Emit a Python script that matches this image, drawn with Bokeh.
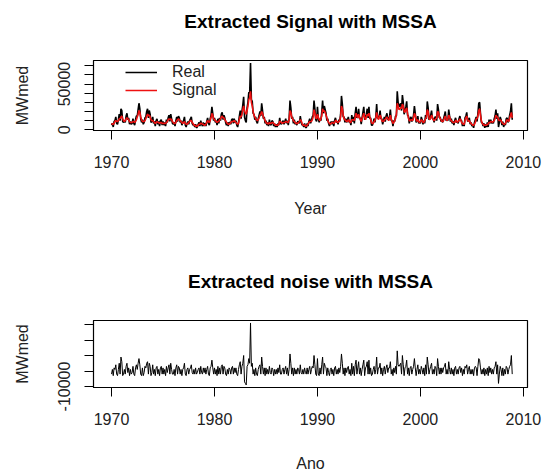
import numpy as np
from bokeh.plotting import figure
from bokeh.layouts import column
from bokeh.models import Legend, LegendItem, FixedTicker, Range1d, LinearAxis
from bokeh.embed import file_html
from bokeh.resources import INLINE

START_YEAR = 1970  # monthly series, Jan 1970 .. Dec 2008

# Signal extracted with MSSA (thousand MWmed), one year per line
signal_k = [
    7, 6, 6, 7, 9, 10, 9, 9, 10, 12, 12, 14,        # 1970
    15, 12, 10, 9, 10, 12, 13, 12, 11, 9, 8, 8,     # 1971
    8, 9, 9, 8, 9, 11, 14, 17, 21, 19, 14, 11,      # 1972
    9, 9, 9, 10, 12, 15, 17, 15, 16, 14, 11, 10,    # 1973
    10, 9, 8, 7, 8, 9, 8, 8, 7, 8, 8, 7,            # 1974
    7, 7, 7, 7, 8, 9, 11, 12, 11, 12, 11, 9,        # 1975
    8, 7, 7, 8, 10, 11, 12, 11, 10, 9, 8, 7,        # 1976
    8, 9, 7, 6, 6, 7, 8, 9, 10, 10, 8, 7,           # 1977
    5, 5, 4, 4, 4, 5, 6, 6, 7, 7, 6, 6,             # 1978
    5, 5, 6, 8, 10, 9, 8, 10, 13, 18, 16, 12,       # 1979
    11, 10, 9, 8, 9, 9, 11, 12, 14, 15, 13, 13,     # 1980
    11, 10, 8, 7, 6, 6, 7, 8, 9, 9, 9, 10,          # 1981
    9, 8, 7, 6, 7, 11, 15, 14, 17, 22, 26, 21,      # 1982
    18, 17, 21, 26, 33, 35, 42, 30, 26, 20, 16, 14, # 1983
    12, 11, 10, 11, 13, 16, 17, 20, 18, 14, 12, 10, # 1984
    8, 7, 7, 6, 8, 7, 7, 8, 8, 7, 6, 5,             # 1985
    5, 5, 5, 6, 9, 9, 8, 7, 8, 8, 8, 9,             # 1986
    9, 8, 8, 11, 21, 19, 14, 12, 10, 9, 8, 7,       # 1987
    7, 7, 8, 9, 11, 10, 7, 5, 5, 5, 4, 4,           # 1988
    5, 6, 8, 9, 9, 9, 11, 14, 22, 19, 13, 12,       # 1989
    17, 14, 11, 10, 12, 15, 23, 20, 21, 19, 16, 13, # 1990
    10, 8, 7, 6, 7, 8, 8, 7, 8, 10, 10, 8,          # 1991
    8, 9, 10, 14, 26, 23, 16, 12, 11, 10, 9, 9,     # 1992
    11, 10, 8, 8, 11, 11, 11, 10, 14, 18, 15, 13,   # 1993
    17, 14, 11, 9, 12, 15, 18, 14, 11, 14, 17, 15,  # 1994
    18, 14, 11, 8, 7, 7, 9, 10, 13, 19, 15, 11,     # 1995
    13, 16, 14, 10, 9, 9, 11, 11, 13, 14, 12, 10,   # 1996
    12, 16, 12, 9, 7, 8, 10, 12, 17, 29, 26, 22,    # 1997
    23, 24, 23, 28, 26, 20, 19, 22, 24, 18, 13, 10, # 1998
    10, 11, 11, 10, 13, 18, 16, 11, 9, 11, 9, 8,    # 1999
    9, 11, 10, 8, 8, 10, 12, 14, 22, 20, 13, 11,    # 2000
    13, 16, 14, 11, 10, 11, 12, 13, 20, 19, 15, 12, # 2001
    11, 9, 9, 10, 13, 15, 12, 10, 12, 16, 14, 11,   # 2002
    10, 9, 8, 8, 8, 10, 10, 8, 9, 10, 12, 11,       # 2003
    8, 7, 6, 6, 10, 13, 15, 11, 9, 10, 8, 7,        # 2004
    6, 5, 5, 6, 8, 12, 12, 15, 21, 23, 16, 10,      # 2005
    7, 6, 5, 5, 5, 5, 6, 6, 8, 8, 9, 9,             # 2006
    8, 9, 10, 12, 16, 14, 14, 11, 10, 11, 10, 8,    # 2007
    7, 6, 6, 7, 9, 11, 10, 9, 13, 16, 19, 13,       # 2008
]

# Noise extracted with MSSA (thousand MWmed), one year per line
noise_k = [
    -2, 1, -3, 2, 1, 4, -2, -3, 1, 5, -2, 9,        # 1970
    6, -3, -2, 1, -2, 3, 5, -1, 2, -3, 1, -2,       # 1971
    -1, 3, -2, -3, 2, 4, 1, 5, 8, 4, -2, -3,        # 1972
    2, -3, -1, 3, 2, 5, 6, -2, 5, 3, -3, -1,        # 1973
    4, -2, 1, -3, 2, 3, -2, 1, -3, 2, 3, -2,        # 1974
    2, -2, 1, -3, 3, -1, 2, 4, -2, 5, 1, -2,        # 1975
    -2, 1, -3, 2, 4, -2, 3, 2, -2, 1, -3, 1,        # 1976
    2, 5, -2, -3, 1, 2, -2, 1, 2, 4, -1, -2,        # 1977
    1, -2, 2, -2, -1, 1, 2, -2, 3, -1, -2, 2,       # 1978
    -1, 2, -2, 1, 3, -2, -3, 2, 3, 7, 2, -2,        # 1979
    2, -2, 1, -3, 3, -2, 2, -2, 3, 4, -2, 3,        # 1980
    2, -2, -3, 1, -2, 2, 1, -2, 2, 3, -2, 2,        # 1981
    -1, 2, -2, -3, 1, 4, 6, -2, 3, 5, 10, -7,       # 1982
    -8, -9, 3, 4, 8, 5, 31, 3, 5, -2, 1, -3,        # 1983
    2, -2, -3, 1, 3, 4, -2, 9, 3, -2, 2, -3,        # 1984
    2, -2, 1, -2, 3, -1, -2, 2, 1, -3, 1, -2,       # 1985
    1, -2, 2, -1, 4, -2, -2, 1, 2, -2, 1, 3,        # 1986
    -2, 2, -3, 1, 11, 5, -2, 2, -3, 2, -2, 1,       # 1987
    -2, 2, 1, -2, 4, -1, -2, 1, -2, 2, -1, -2,      # 1988
    2, -2, 1, 3, -2, 1, 3, 2, 10, 4, -2, -3,        # 1989
    8, -2, -3, 2, -2, 4, 9, -2, 5, 3, 2, -3,        # 1990
    2, -1, -3, 1, 2, -2, 1, -3, 2, 3, -2, 1,        # 1991
    -2, 2, -1, 3, 11, 5, -2, 2, -3, 2, -1, 2,       # 1992
    3, -2, 1, -3, 5, -2, 3, -3, 4, 7, -2, 2,        # 1993
    6, -2, 2, -3, 1, 4, 7, -3, 2, 3, 6, -2,         # 1994
    7, -2, 2, -3, -2, 1, 3, -2, 1, 9, -2, 2,        # 1995
    2, 5, -2, 2, -3, 1, 3, -2, 2, 4, -1, 2,         # 1996
    2, 6, -2, 1, -3, 2, -1, 3, -2, 13, 4, 3,        # 1997
    4, 5, -2, 10, 4, -3, 2, 3, 7, -2, 2, -3,        # 1998
    2, 3, -2, 1, 3, 8, 2, -3, 1, 4, -2, 1,          # 1999
    -2, 3, 1, -2, 2, -3, 4, -2, 9, 4, -2, 1,        # 2000
    3, 5, -2, 1, -2, 3, 2, -3, 8, 3, -2, 2,         # 2001
    -2, 2, -1, 2, 3, 5, -2, 1, -2, 6, 1, -2,        # 2002
    2, -2, 1, -3, 2, 3, -2, 1, -2, 2, 3, -1,        # 2003
    2, -3, 1, -2, 3, 2, 4, -2, 1, 3, -2, 1,         # 2004
    -2, 1, -3, 2, 3, 2, -3, 3, 8, 7, 2, -2,         # 2005
    1, -2, 2, -3, 1, -2, 2, -3, 3, -1, 2, -2,       # 2006
    1, -2, 2, 3, 6, -2, 4, -8, -2, 3, 1, -3,        # 2007
    2, -3, 1, -2, 3, 2, -2, 1, 3, 4, 10, -2,        # 2008
]

x_ticks = [1970, 1980, 1990, 2000, 2010]
top_y_ticks = [0, 10000, 20000, 30000, 40000, 50000, 60000, 70000]
top_y_labels = {0: "0", 50000: "50000"}
noise_y_ticks = [-10000, 0, 10000, 20000, 30000]
noise_y_labels = {-10000: "-10000"}

titles = ["Extracted Signal with MSSA", "Extracted noise with MSSA"]
x_labels = ["Year", "Ano"]
y_label = "MWmed"
legend_labels = ["Real", "Signal"]

signal = np.array(signal_k, dtype=float) * 1000
noise = np.array(noise_k, dtype=float) * 1000
real = signal + noise          # Real = Signal + Noise (MSSA decomposition)
t = START_YEAR + np.arange(len(signal)) / 12.0

FONT = "Liberation Sans"
TXT = "#222222"


def base_fig(frame_h, top, bottom, yr, yticks, ylabels, title, xlabel, xstand):
    p = figure(frame_width=434, frame_height=frame_h, output_backend="svg",
               toolbar_location=None,
               x_range=Range1d(1968.25, 2010.4), y_range=Range1d(*yr),
               min_border_left=93, min_border_right=15,
               min_border_top=top, min_border_bottom=bottom)
    p.xgrid.visible = False
    p.ygrid.visible = False
    p.outline_line_color = "black"
    p.outline_line_width = 1.2
    p.background_fill_color = "white"
    p.border_fill_color = "white"
    bx = p.below[0]
    ly = p.left[0]
    for ax in (bx, ly):
        ax.major_tick_out = 9
        ax.major_tick_in = 0
        ax.minor_tick_line_color = None
        ax.axis_line_color = "black"
        ax.major_tick_line_color = "black"
        ax.major_label_text_font = FONT
        ax.major_label_text_font_size = "16px"
        ax.major_label_text_color = TXT
        ax.axis_label_text_font = FONT
        ax.axis_label_text_font_size = "16px"
        ax.axis_label_text_font_style = "normal"
        ax.axis_label_text_color = TXT
    bx.ticker = FixedTicker(ticks=x_ticks)
    bx.major_label_standoff = 16
    bx.axis_label = xlabel
    bx.axis_label_standoff = xstand
    ly.ticker = FixedTicker(ticks=yticks)
    ly.major_label_overrides = {v: ylabels.get(v, "") for v in yticks}
    ly.major_label_orientation = "vertical"
    ly.major_label_standoff = 14
    ly.axis_label = y_label
    ly.axis_label_standoff = 25
    # main title as the label of a tickless axis above the frame
    tax = LinearAxis(ticker=FixedTicker(ticks=[]), axis_label=title,
                     axis_line_color=None, major_tick_line_color=None,
                     minor_tick_line_color=None, major_tick_out=0,
                     minor_tick_out=0, major_label_standoff=0,
                     axis_label_standoff=29,
                     axis_label_text_font=FONT, axis_label_text_font_size="19px",
                     axis_label_text_font_style="bold",
                     axis_label_text_color="black")
    p.add_layout(tax, "above")
    return p


p1 = base_fig(70, 60, 104, (-840, 75800), top_y_ticks, top_y_labels,
              titles[0], x_labels[0], 29)
r_real = p1.line(t, real, line_color="black", line_width=1.6)
r_sig = p1.line(t, signal, line_color="#ee1111", line_width=1.6)
leg = Legend(items=[LegendItem(label=legend_labels[0], renderers=[r_real]),
                    LegendItem(label=legend_labels[1], renderers=[r_sig])],
             location=(32, 31), padding=0, margin=0, spacing=-13,
             glyph_width=32, glyph_height=12, label_height=12, label_standoff=15,
             label_text_font=FONT, label_text_font_size="16px",
             label_text_color=TXT,
             border_line_color=None, background_fill_alpha=0)
p1.add_layout(leg)

p2 = base_fig(67, 86, 84, (-10650, 32600), noise_y_ticks, noise_y_labels,
              titles[1], x_labels[1], 27)
p2.line(t, noise, line_color="black", line_width=1)

layout = column(p1, p2, spacing=0)
open("out.html", "w").write(file_html(layout, INLINE))
